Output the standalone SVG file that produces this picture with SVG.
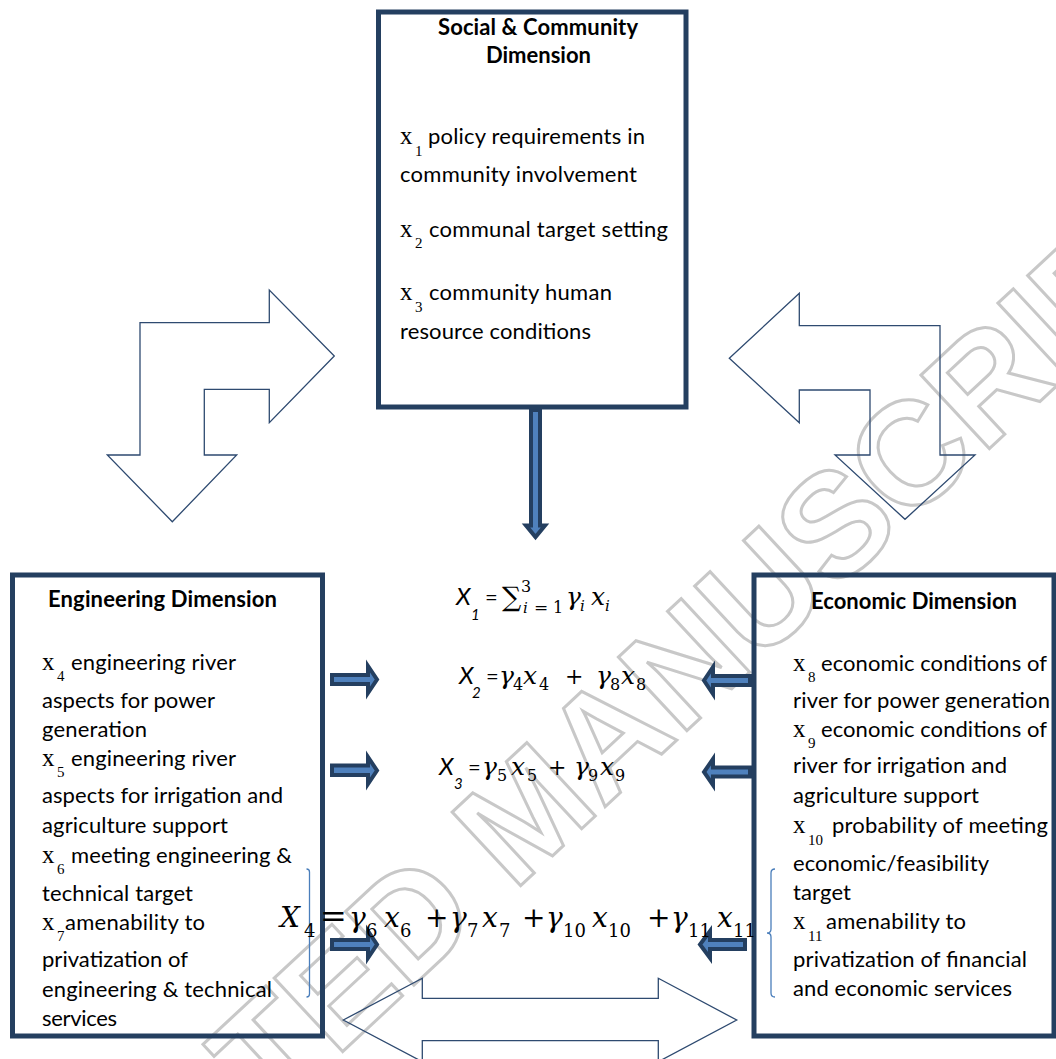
<svg xmlns="http://www.w3.org/2000/svg" width="1056" height="1059" viewBox="0 0 1056 1059">
<style>
.box{fill:none;stroke:#243F60;stroke-width:5}
.hollow{fill:none;stroke:#2E4A70;stroke-width:1.3;stroke-linejoin:miter}
.blk{fill:#4F81BD;stroke:#243F60;stroke-width:4;stroke-linejoin:miter}
.t{font-family:Lato,'Open Sans',sans-serif;font-size:22px;fill:#000}
.b{font-weight:bold}
.mono{font-family:'Liberation Serif','Times New Roman',serif;font-size:25px;fill:#000}
.sub{font-family:'Liberation Serif','Times New Roman',serif;font-size:15px;fill:#000}
.wm{font-family:'Liberation Sans',Arial,sans-serif;font-weight:bold;font-size:146px;fill:none;stroke:#c8c8c8;stroke-width:3}
.brk{fill:none;stroke:#4A7EBB;stroke-width:1.3}
.eX{font-family:Lato,'Open Sans',sans-serif;font-style:italic;font-size:24px;fill:#000}
.eXs{font-family:Lato,'Open Sans',sans-serif;font-style:italic;font-size:15px;fill:#000}
.eq{font-family:Lato,'Open Sans',sans-serif;font-size:22px;fill:#000}
.m{font-family:'DejaVu Serif',serif;font-style:italic;font-size:25px;fill:#000}
.mn{font-family:'DejaVu Serif',serif;font-size:16px;fill:#000}
.mi{font-family:'DejaVu Serif',serif;font-style:italic;font-size:15px;fill:#000}
.mp{font-family:'DejaVu Serif',serif;font-size:22px;fill:#000}
.M{font-family:'DejaVu Serif',serif;font-style:italic;font-size:28px;fill:#000}
.Mn{font-family:'DejaVu Serif',serif;font-size:18px;fill:#000}
.Mp{font-family:'DejaVu Serif',serif;font-size:28px;fill:#000}
</style>
<rect x="0" y="0" width="1056" height="1059" fill="#fff"/>
<text class="wm" transform="translate(561,848) rotate(-43)" text-anchor="middle">ACCEPTED MANUSCRIPT</text>

<g id="connectors">
  <polygon id="bent-left" class="hollow" points="140,322.7 269.3,322.7 269.3,290 334.3,356 269.3,422.7 269.3,389.3 204.3,389.3 204.3,455 236.7,455 172.3,521.7 107.3,455 140,455"/>
  <polygon id="bent-right" class="hollow" points="799.3,325.7 940,325.7 940,455 975,455 905,519.3 835,455 870,455 870,390 799.3,390 799.3,422.7 729.3,358.3 799.3,293.3"/>
  <polygon id="double-arrow" class="hollow" points="343.3,1020 422.3,978.3 422.3,998.3 658.3,998.3 658.3,978.3 736.7,1020 658.3,1061.7 658.3,1040.7 422.3,1040.7 422.3,1061.7"/>
  <polygon id="down-arrow" class="blk" points="531,410 540,410 540,525.5 545,525.5 535.5,537 526,525.5 531,525.5"/>
  <polygon class="blk" points="332,675 368,675 368,666 377,679.5 368,693 368,684 332,684"/>
  <polygon class="blk" points="332,765.5 368,765.5 368,757 377,770.5 368,784 368,775 332,775"/>
  <polygon class="blk" points="332,940 368,940 368,931 377,944.5 368,958 368,949 332,949"/>
  <polygon class="blk" points="750,676 713,676 713,667 704,680.5 713,694 713,685 750,685"/>
  <polygon class="blk" points="750,767.5 713,767.5 713,759 704,772 713,785 713,776.5 750,776.5"/>
  <polygon class="blk" points="745,940 710,940 710,931 700,944.5 710,958 710,949 745,949"/>
  <path class="brk" d="M306.5,869 Q309.5,869 309.5,872 V994 Q309.5,997 306.5,997"/>
  <path class="brk" d="M775,869 Q771,869 771,873 V929 Q771,933 767,933 Q771,933 771,937 V993 Q771,997 775,997"/>
</g>

<g id="social">
  <rect class="box" x="378.5" y="12" width="307.5" height="395"/>
  <text class="t b" x="538" y="35" text-anchor="middle" textLength="200">Social &amp; Community</text>
  <text class="t b" x="538.5" y="63" text-anchor="middle" textLength="105">Dimension</text>
  <text class="mono" x="400" y="144">x</text><text class="sub" x="415" y="156">1</text>
  <text class="t" x="428" y="144" textLength="217">policy requirements in</text>
  <text class="t" x="400" y="182" textLength="237">community involvement</text>
  <text class="mono" x="400" y="237">x</text><text class="sub" x="415" y="248">2</text>
  <text class="t" x="429" y="237" textLength="239">communal target setting</text>
  <text class="mono" x="400" y="300">x</text><text class="sub" x="415" y="312">3</text>
  <text class="t" x="429" y="300" textLength="183">community human</text>
  <text class="t" x="400" y="339" textLength="191">resource conditions</text>
</g>

<g id="engineering">
  <rect class="box" x="12.5" y="575" width="310" height="461"/>
  <text class="t b" x="48" y="607" textLength="229">Engineering Dimension</text>
  <text class="mono" x="42" y="670">x</text><text class="sub" x="57" y="681">4</text>
  <text class="t" x="71" y="670" textLength="165">engineering river</text>
  <text class="t" x="42" y="708" textLength="173">aspects for power</text>
  <text class="t" x="42" y="737" textLength="105">generation</text>
  <text class="mono" x="42" y="766">x</text><text class="sub" x="57" y="777">5</text>
  <text class="t" x="71" y="766" textLength="165">engineering river</text>
  <text class="t" x="42" y="803" textLength="241">aspects for irrigation and</text>
  <text class="t" x="42" y="833" textLength="186">agriculture support</text>
  <text class="mono" x="42" y="863">x</text><text class="sub" x="57" y="874">6</text>
  <text class="t" x="71" y="863" textLength="221">meeting engineering &amp;</text>
  <text class="t" x="42" y="901" textLength="151">technical target</text>
  <text class="mono" x="42" y="930">x</text><text class="sub" x="57" y="941">7</text>
  <text class="t" x="65" y="930" textLength="140">amenability to</text>
  <text class="t" x="42" y="967" textLength="146">privatization of</text>
  <text class="t" x="42" y="997" textLength="230">engineering &amp; technical</text>
  <text class="t" x="42" y="1026" textLength="75">services</text>
</g>

<g id="economic">
  <rect class="box" x="754" y="575" width="300" height="461"/>
  <text class="t b" x="811" y="609" textLength="206">Economic Dimension</text>
  <text class="mono" x="793" y="671">x</text><text class="sub" x="808" y="682">8</text>
  <text class="t" x="821" y="671" textLength="226">economic conditions of</text>
  <text class="t" x="793" y="708" textLength="257">river for power generation</text>
  <text class="mono" x="793" y="737">x</text><text class="sub" x="808" y="748">9</text>
  <text class="t" x="821" y="737" textLength="226">economic conditions of</text>
  <text class="t" x="793" y="773" textLength="214">river for irrigation and</text>
  <text class="t" x="793" y="803" textLength="186">agriculture support</text>
  <text class="mono" x="793" y="833">x</text><text class="sub" x="808" y="845">10</text>
  <text class="t" x="832" y="833" textLength="216">probability of meeting</text>
  <text class="t" x="793" y="871" textLength="196">economic/feasibility</text>
  <text class="t" x="793" y="900" textLength="58">target</text>
  <text class="mono" x="793" y="929">x</text><text class="sub" x="808" y="941">11</text>
  <text class="t" x="826" y="929" textLength="140">amenability to</text>
  <text class="t" x="793" y="967" textLength="234">privatization of financial</text>
  <text class="t" x="793" y="996" textLength="219">and economic services</text>
</g>

<g id="eq1">
  <text class="eX" x="456" y="605">X</text><text class="eXs" x="471" y="620">1</text>
  <text class="eq" x="485" y="605">=</text>
  <text class="mp" x="502" y="606" style="font-size:27px">∑</text>
  <text class="mn" x="521" y="592">3</text>
  <text class="mi" x="523" y="613">i</text>
  <text class="mn" x="534" y="613" style="font-size:17px">=</text>
  <text class="mn" x="553" y="613">1</text>
  <text class="m" x="566" y="605">γ</text><text class="mi" x="580" y="611">i</text>
  <text class="m" x="591" y="605">x</text><text class="mi" x="605" y="611">i</text>
</g>
<g id="eq2">
  <text class="eX" x="459" y="684">X</text><text class="eXs" x="472" y="698">2</text>
  <text class="eq" x="486" y="684">=</text>
  <text class="m" x="499" y="684">γ</text><text class="mn" x="513" y="690">4</text>
  <text class="m" x="523" y="684">x</text><text class="mn" x="539" y="690">4</text>
  <text class="mp" x="565" y="684">+</text>
  <text class="m" x="596" y="684">γ</text><text class="mn" x="610" y="690">8</text>
  <text class="m" x="621" y="684">x</text><text class="mn" x="636" y="690">8</text>
</g>
<g id="eq3">
  <text class="eX" x="439" y="775">X</text><text class="eXs" x="454" y="789">3</text>
  <text class="eq" x="468" y="775">=</text>
  <text class="m" x="482" y="775">γ</text><text class="mn" x="497" y="781">5</text>
  <text class="m" x="511" y="775">x</text><text class="mn" x="527" y="781">5</text>
  <text class="mp" x="548" y="775">+</text>
  <text class="m" x="574" y="775">γ</text><text class="mn" x="588" y="781">9</text>
  <text class="m" x="600" y="775">x</text><text class="mn" x="615" y="781">9</text>
</g>
<g id="eq4">
  <text class="M" x="280" y="927">X</text><text class="Mn" x="304" y="937">4</text>
  <text class="Mp" x="320" y="927" style="font-size:32px">=</text>
  <text class="M" x="349" y="927">γ</text><text class="Mn" x="366" y="937">6</text>
  <text class="M" x="384" y="927">x</text><text class="Mn" x="400" y="937">6</text>
  <text class="Mp" x="425" y="927">+</text>
  <text class="M" x="450" y="927">γ</text><text class="Mn" x="467" y="937">7</text>
  <text class="M" x="482" y="927">x</text><text class="Mn" x="499" y="937">7</text>
  <text class="Mp" x="522" y="927">+</text>
  <text class="M" x="546" y="927">γ</text><text class="Mn" x="563" y="937">10</text>
  <text class="M" x="592" y="927">x</text><text class="Mn" x="608" y="937">10</text>
  <text class="Mp" x="647" y="927">+</text>
  <text class="M" x="671" y="927">γ</text><text class="Mn" x="688" y="937">11</text>
  <text class="M" x="717" y="927">x</text><text class="Mn" x="733" y="937">11</text>
</g>
</svg>
